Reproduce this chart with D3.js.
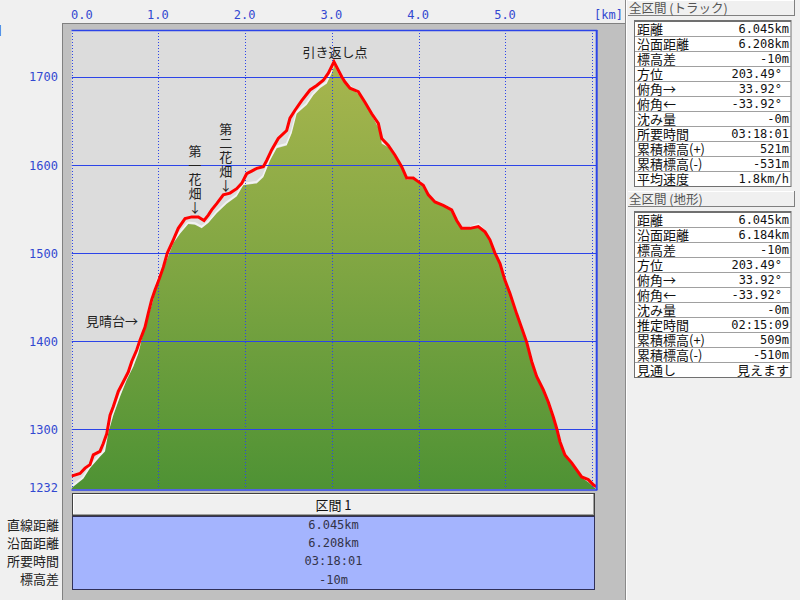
<!DOCTYPE html>
<html><head><meta charset="utf-8">
<script src="https://cdn.jsdelivr.net/npm/d3@7"></script>
<style>
html,body{margin:0;padding:0;background:#f0f0f0;}
svg{display:block;}
.jp{font-family:"Noto Sans CJK JP","Noto Sans",sans-serif;}
.num{font-family:"DejaVu Sans Mono","Liberation Mono",monospace;}
.vt{writing-mode:vertical-rl;text-orientation:upright;}
</style></head>
<body>
<svg id="c" width="800" height="600"></svg>
<script>
// ---------- data ----------
const kmTicks = [0, 1, 2, 3, 4, 5];
const kmTickLabels = ["0.0", "1.0", "2.0", "3.0", "4.0", "5.0"];
const kmGrid = [0, 1, 2, 3, 4, 5, 6];
const elevTicks = [1232, 1300, 1400, 1500, 1600, 1700];
const elevGrid = [1300, 1400, 1500, 1600, 1700];
const totalKm = 6.045;
const elevTop = 1753;

const trackKm = [0.00,0.098,0.156,0.213,0.251,0.328,0.366,0.406,0.444,0.482,0.539,0.597,0.654,0.694,0.751,0.789,0.847,0.885,0.924,0.962,1.012,1.058,1.104,1.173,1.230,1.308,1.385,1.461,1.527,1.576,1.615,1.673,1.749,1.826,1.903,1.961,2.018,2.076,2.134,2.210,2.249,2.306,2.382,2.479,2.517,2.575,2.652,2.748,2.825,2.901,2.959,3.024,3.113,3.151,3.209,3.304,3.381,3.459,3.535,3.574,3.650,3.727,3.804,3.862,3.938,3.995,4.053,4.111,4.188,4.283,4.380,4.438,4.495,4.591,4.687,4.764,4.821,4.879,4.937,4.994,5.052,5.129,5.187,5.244,5.302,5.359,5.435,5.493,5.551,5.590,5.628,5.685,5.763,5.820,5.878,5.954,6.012,6.045];
const trackElev = [1247,1250,1256,1260,1271,1275,1284,1295,1316,1326,1343,1354,1365,1377,1390,1401,1416,1432,1447,1458,1471,1484,1500,1515,1528,1539,1541,1541,1537,1543,1549,1556,1566,1568,1573,1579,1590,1593,1596,1598,1605,1617,1630,1639,1653,1662,1673,1685,1690,1696,1704,1717,1700,1694,1687,1683,1671,1658,1647,1630,1622,1611,1598,1585,1585,1581,1577,1566,1558,1554,1549,1537,1528,1528,1530,1524,1515,1500,1488,1469,1454,1431,1415,1399,1377,1360,1345,1331,1314,1301,1286,1271,1262,1254,1246,1243,1237,1235];

const terrainKm = [0.00,0.02,0.136,0.213,0.328,0.386,0.424,0.482,0.559,0.636,0.712,0.770,0.827,0.885,0.942,0.982,1.097,1.173,1.250,1.346,1.423,1.500,1.576,1.673,1.788,1.903,1.979,2.134,2.210,2.287,2.364,2.479,2.537,2.594,2.710,2.786,2.863,2.940,2.998,3.028,3.093,3.171,3.324,3.459,3.554,3.574,3.650,3.727,3.804,3.862,3.938,3.995,4.053,4.111,4.188,4.283,4.380,4.438,4.495,4.591,4.687,4.764,4.821,4.879,4.937,4.994,5.052,5.129,5.187,5.244,5.302,5.359,5.435,5.493,5.551,5.590,5.628,5.685,5.763,5.820,5.878,5.954,6.012,6.045];
const terrainElev = [1233,1235,1244,1256,1269,1275,1296,1316,1337,1356,1371,1386,1409,1428,1447,1466,1492,1511,1522,1533,1532,1528,1534,1545,1556,1564,1577,1579,1586,1605,1619,1622,1636,1658,1668,1679,1687,1692,1704,1713,1700,1690,1679,1656,1639,1624,1620,1609,1597,1583,1584,1580,1576,1565,1557,1553,1548,1536,1527,1527,1531,1523,1514,1499,1487,1468,1453,1430,1414,1398,1376,1359,1344,1330,1313,1300,1285,1270,1261,1253,1245,1240,1235,1232];

const noteText = ["引き返し点", "見晴台→"];
const noteKm = [3.035, 0.766];
const noteElev = [1727, 1422];
const vNoteText = ["第一花畑↓", "第二花畑↓"];
const vNoteKm = [1.423, 1.777];
const vNoteElev = [1623, 1648];

const trackHeader = "全区間 (トラック)";
const trackLabels = ["距離","沿面距離","標高差","方位","俯角→","俯角←","沈み量","所要時間","累積標高(+)","累積標高(-)","平均速度"];
const trackValues = ["6.045km","6.208km","-10m","203.49°","33.92°","-33.92°","-0m","03:18:01","521m","-531m","1.8km/h"];
const terrainHeader = "全区間 (地形)";
const terrainLabels = ["距離","沿面距離","標高差","方位","俯角→","俯角←","沈み量","推定時間","累積標高(+)","累積標高(-)","見通し"];
const terrainValues = ["6.045km","6.184km","-10m","203.49°","33.92°","-33.92°","-0m","02:15:09","509m","-510m","見えます"];

const sectionName = "区間 1";
const sectionLabels = ["直線距離","沿面距離","所要時間","標高差"];
const sectionValues = ["6.045km","6.208km","03:18:01","-10m"];

// ---------- layout ----------
const svg = d3.select("#c");
const L = 71.5, R = 596.2, T = 30, B = 489.3;
const x = d3.scaleLinear().domain([0, totalKm]).range([L, R]);
const y = d3.scaleLinear().domain([1232, elevTop]).range([B, T]);
const blue = "#2c44e8";
const tickBlue = "#3348d0";

svg.append("rect").attr("width",800).attr("height",600).attr("fill","#f0f0f0");
// gray chart panel
svg.append("rect").attr("x",62).attr("y",23).attr("width",563).attr("height",577).attr("fill","#c0c0c0");
svg.append("line").attr("x1",62.5).attr("x2",62.5).attr("y1",23).attr("y2",600).attr("stroke","#808080");
svg.append("line").attr("x1",62).attr("x2",625).attr("y1",23.5).attr("y2",23.5).attr("stroke","#808080");
svg.append("line").attr("x1",625.5).attr("x2",625.5).attr("y1",0).attr("y2",600).attr("stroke","#8a8a8a");
svg.append("line").attr("x1",626.5).attr("x2",626.5).attr("y1",0).attr("y2",600).attr("stroke","#ffffff");

// plot background
svg.append("rect").attr("x",L).attr("y",T).attr("width",R-L).attr("height",B-T).attr("fill","#dcdcdc");

const defs = svg.append("defs");
const grad = defs.append("linearGradient").attr("id","g1").attr("gradientUnits","userSpaceOnUse")
  .attr("x1",0).attr("x2",0).attr("y1",y(1717)).attr("y2",B);
grad.append("stop").attr("offset","0").attr("stop-color","#a8b64e");
grad.append("stop").attr("offset","0.5").attr("stop-color","#7ea542");
grad.append("stop").attr("offset","1").attr("stop-color","#4e9234");
defs.append("clipPath").attr("id","clip").append("rect").attr("x",L).attr("y",T).attr("width",R-L).attr("height",B-T);

const terrain = terrainKm.map((k,i)=>({k, e: terrainElev[i]}));
const track = trackKm.map((k,i)=>({k, e: trackElev[i]}));

const plot = svg.append("g").attr("clip-path","url(#clip)");
// white rim of terrain
plot.append("path").datum(terrain)
  .attr("d", d3.line().x(d=>x(d.k)).y(d=>y(d.e)-1.5))
  .attr("fill","none").attr("stroke","#f2f2f2").attr("stroke-width",2);
plot.append("path").datum(terrain)
  .attr("d", d3.area().x(d=>x(d.k)).y0(y(1232)).y1(d=>y(d.e)))
  .attr("fill","url(#g1)");

// grid
plot.selectAll(".hg").data(elevGrid).enter().append("line")
  .attr("x1",L).attr("x2",R).attr("y1",d=>Math.round(y(d))+0.5).attr("y2",d=>Math.round(y(d))+0.5)
  .attr("stroke",blue).attr("stroke-width",1);
plot.selectAll(".vg").data(kmGrid).enter().append("line")
  .attr("x1",d=>Math.round(x(d))+0.5).attr("x2",d=>Math.round(x(d))+0.5).attr("y1",T).attr("y2",B)
  .attr("stroke",blue).attr("stroke-width",1).attr("stroke-dasharray","1,2");

// track line
plot.append("path").datum(track)
  .attr("d", d3.line().x(d=>x(d.k)).y(d=>y(d.e)))
  .attr("fill","none").attr("stroke","#ff0000").attr("stroke-width",3).attr("stroke-linejoin","miter");

// plot border
svg.append("line").attr("x1",L).attr("x2",R+1).attr("y1",T+0.5).attr("y2",T+0.5).attr("stroke",blue).attr("stroke-width",1.5);
svg.append("line").attr("x1",R+0.5).attr("x2",R+0.5).attr("y1",T).attr("y2",B+1).attr("stroke",blue).attr("stroke-width",2);
svg.append("line").attr("x1",L).attr("x2",R+1).attr("y1",B+0.7).attr("y2",B+0.7).attr("stroke",blue).attr("stroke-width",1.5);

// axes
const xAxis = svg.append("g").attr("transform",`translate(0,20)`)
  .call(d3.axisTop(x).tickValues(kmTicks).tickSize(0).tickFormat((d,i)=>kmTickLabels[i]));
xAxis.select(".domain").remove();
xAxis.selectAll("text").attr("class","num").attr("font-size",12).attr("fill",tickBlue)
  .attr("y",-1).attr("dy",0).attr("dx",-1)
  .attr("text-anchor",(d,i)=>i===0?"start":"middle");
svg.append("text").attr("class","num").attr("x",623).attr("y",19).attr("text-anchor","end")
  .attr("font-size",12).attr("fill",tickBlue).text("[km]");
svg.append("text").attr("class","num").attr("x",-4).attr("y",35).attr("text-anchor","start")
  .attr("font-size",12).attr("fill",tickBlue).text("]");

const yAxis = svg.append("g").attr("transform",`translate(58,0)`)
  .call(d3.axisLeft(y).tickValues(elevTicks).tickSize(0).tickPadding(0).tickFormat(d3.format("d")));
yAxis.select(".domain").remove();
yAxis.selectAll("text").attr("class","num").attr("font-size",12).attr("fill",tickBlue)
  .attr("dy","0.35em").attr("y",(d)=>d===1232?-2:0);

// annotations
svg.selectAll(".note").data(noteText).enter().append("text").attr("class","jp")
  .attr("x",(d,i)=>x(noteKm[i])).attr("y",(d,i)=>y(noteElev[i])).attr("dy","0.35em")
  .attr("text-anchor",(d,i)=>i===0?"middle":"end").attr("font-size",13).attr("fill","#222").text(d=>d);
svg.selectAll(".vnote").data(vNoteText).enter().append("text").attr("class","jp vt")
  .attr("x",(d,i)=>x(vNoteKm[i])).attr("y",(d,i)=>y(vNoteElev[i]))
  .attr("font-size",13).attr("letter-spacing",1).attr("fill","#222").text(d=>d);

// bottom section table
svg.append("rect").attr("x",72.5).attr("y",493.5).attr("width",522).attr("height",22).attr("fill","#f0f0f0").attr("stroke","#404040");
svg.append("line").attr("x1",73).attr("x2",594).attr("y1",494.5).attr("y2",494.5).attr("stroke","#ffffff");
svg.append("line").attr("x1",73.5).attr("x2",73.5).attr("y1",494).attr("y2",515).attr("stroke","#ffffff");
svg.append("line").attr("x1",73).attr("x2",594).attr("y1",514.5).attr("y2",514.5).attr("stroke","#a0a0a0");
svg.append("line").attr("x1",593.5).attr("x2",593.5).attr("y1",494).attr("y2",515).attr("stroke","#a0a0a0");
svg.append("text").attr("class","jp").attr("x",333.5).attr("y",505).attr("dy","0.35em").attr("text-anchor","middle")
  .attr("font-size",13).attr("fill","#111").text(sectionName);
svg.append("rect").attr("x",72.5).attr("y",516.5).attr("width",522).attr("height",73).attr("fill","#a4b4fe").attr("stroke","#303058");
svg.selectAll(".sl").data(sectionLabels).enter().append("text").attr("class","jp")
  .attr("x",59).attr("y",(d,i)=>525+i*18.1).attr("dy","0.35em").attr("text-anchor","end")
  .attr("font-size",13).attr("fill","#222").text(d=>d);
svg.selectAll(".sv").data(sectionValues).enter().append("text").attr("class","num")
  .attr("x",333.5).attr("y",(d,i)=>525+i*18.1).attr("dy","0.35em").attr("text-anchor","middle")
  .attr("font-size",12).attr("fill","#333348").text(d=>d);

// right summary panels
function panel(top, header, labels, values){
  const g = svg.append("g");
  g.append("rect").attr("x",628).attr("y",top).attr("width",167).attr("height",15).attr("fill","#f0f0f0");
  g.append("line").attr("x1",628).attr("x2",795).attr("y1",top+15.5).attr("y2",top+15.5).attr("stroke","#808080");
  g.append("line").attr("x1",794.5).attr("x2",794.5).attr("y1",top).attr("y2",top+16).attr("stroke","#808080");
  g.append("line").attr("x1",628).attr("x2",794).attr("y1",top+0.5).attr("y2",top+0.5).attr("stroke","#ffffff");
  g.append("text").attr("class","jp").attr("x",629).attr("y",top+9).attr("dy","0.35em")
    .attr("font-size",12.5).attr("fill","#555").text(header);
  const t0 = top + 21;
  const rh = 15;
  g.append("rect").attr("x",634.5).attr("y",t0-0.5).attr("width",156.5).attr("height",rh*labels.length+1)
    .attr("fill","#ffffff").attr("stroke","#707070");
  g.selectAll(".rl").data(labels).enter().append("line")
    .attr("x1",635).attr("x2",791).attr("y1",(d,i)=>t0+i*rh+0.5).attr("y2",(d,i)=>t0+i*rh+0.5)
    .attr("stroke",(d,i)=>i===0?"#707070":"#a0a0a0");
  g.selectAll(".lb").data(labels).enter().append("text").attr("class","jp")
    .attr("x",637).attr("y",(d,i)=>t0+i*rh+8).attr("dy","0.35em")
    .attr("font-size",13).attr("fill","#111").text(d=>d);
  g.selectAll(".vl").data(values).enter().append("text")
    .attr("class",d=>/[\u3040-\u30ff]/.test(d)?"jp":"num")
    .attr("x",d=>d.endsWith("°")?782:789).attr("y",(d,i)=>t0+i*rh+8).attr("dy","0.35em")
    .attr("text-anchor","end").attr("font-size",d=>/[\u3040-\u30ff]/.test(d)?13:12).attr("fill","#111").text(d=>d);
}
panel(0, trackHeader, trackLabels, trackValues);
panel(191, terrainHeader, terrainLabels, terrainValues);
</script>
</body></html>
